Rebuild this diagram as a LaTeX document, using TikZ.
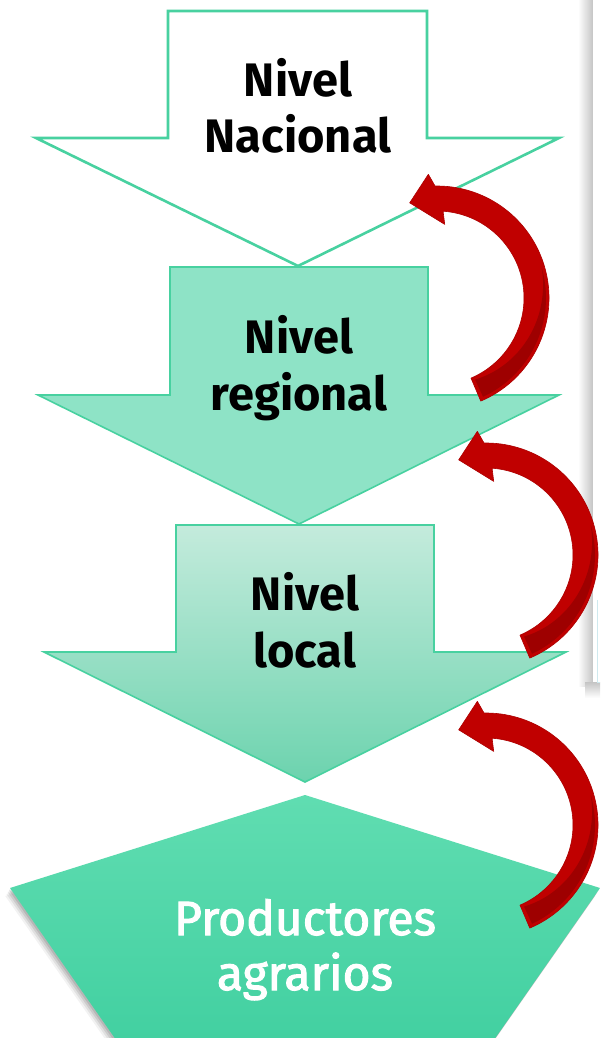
\documentclass[tikz,border=0pt]{standalone}
\usepackage{fontspec}
\setmainfont{Fira Sans}
\newfontfamily\prodfont[FakeBold=2.2]{Fira Sans}
\definecolor{edgegreen}{HTML}{48D1A0}
\definecolor{regfill}{HTML}{8EE3C6}
\definecolor{loctop}{HTML}{C4EBDC}
\definecolor{locbot}{HTML}{6CD3AE}
\definecolor{pentop}{HTML}{60DDB1}
\definecolor{penbot}{HTML}{3BCD9D}
\definecolor{redarr}{HTML}{C00000}
\definecolor{reddark}{HTML}{9E0000}
\definecolor{panelgray}{HTML}{C4C4C4}
\definecolor{panelline}{HTML}{CFE9EE}
\tikzset{
  lvltext/.style={font=\fontsize{47}{55}\selectfont\bfseries, text=black, inner sep=0pt, anchor=base},
  prodtext/.style={font=\prodfont\fontsize{48}{55}\selectfont, text=white, inner sep=0pt, anchor=base},
  redbody/.style={fill=redarr, draw=redarr!90!black, line width=0.6pt, line join=round},
  redshade/.style={fill=reddark},
}
\newcommand{\curvedarrow}{%
  \path[redbody] (-67:112) arc[start angle=-67, end angle=91, radius=112]
     -- (94:124) -- (106:99) -- (84:74) -- (86:87)
     arc[start angle=86, end angle=-67, radius=87] -- cycle;
  \fill[redshade] plot[domain=-65:16, samples=40] (\x:{109})
     -- plot[domain=16:-65, samples=40] (\x:{109-19*(16-\x)/81}) -- cycle;
}
\begin{document}
\begin{tikzpicture}[x=1pt,y=-1pt]
\useasboundingbox (0,0) rectangle (600,1038);
\clip (0,0) rectangle (600,1038);
\fill[white] (0,0) rectangle (600,1038);

% right panel with shadow
\shade[left color=white, right color=panelgray] (578,0) rectangle (593,686);
\shade[top color=panelgray, bottom color=white] (585,682) rectangle (600,698);
\fill[white] (593,0) rectangle (600,682);
\draw[panelline, line width=1pt] (597,600) -- (597,682) -- (600,682);

% Nivel Nacional arrow
\draw[edgegreen, line width=2.6pt, fill=white, line join=miter]
  (168,11) -- (427,11) -- (427,138) -- (559,138) -- (298,266) -- (36,138) -- (168,138) -- cycle;
\node[lvltext] (nac1) at (298,97) {Nivel};
\node[lvltext] (nac2) at (298,153) {Nacional};

% Nivel regional arrow
\draw[edgegreen, line width=1.6pt, fill=regfill]
  (170,267) -- (428,267) -- (428,395) -- (559,395) -- (299,524) -- (38,395) -- (170,395) -- cycle;
\node[lvltext] (reg1) at (299,353) {Nivel};
\node[lvltext] (reg2) at (299,410) {regional};

% Nivel local arrow
\path[top color=loctop, bottom color=locbot]
  (176,525) -- (434,525) -- (434,652) -- (566,652) -- (305,782) -- (44,652) -- (176,652) -- cycle;
\draw[edgegreen, line width=1.6pt]
  (176,525) -- (434,525) -- (434,652) -- (566,652) -- (305,782) -- (44,652) -- (176,652) -- cycle;
\node[lvltext] (loc1) at (305,610) {Nivel};
\node[lvltext] (loc2) at (305,667) {local};

% Productores pentagon with soft shadow
\foreach \o/\op in {8/0.05,6/0.07,4/0.09,2/0.1} {
  \fill[black, opacity=\op] (305-\o*0.6,795+\o) -- (600-\o*0.6,888+\o) -- (452-\o*0.6,1100+\o) -- (158-\o*0.6,1100+\o) -- (10-\o*0.6,888+\o) -- cycle;
}
\path[top color=pentop, bottom color=penbot]
  (305,795) -- (600,888) -- (452,1100) -- (158,1100) -- (10,888) -- cycle;
\node[prodtext] (prod1) at (305,935) {Productores};
\node[prodtext] (prod2) at (305,990) {agrarios};

% red curved arrows
\coordinate (ca) at (437,298);
\coordinate (cb) at (486,555);
\coordinate (cc) at (486,825);
\begin{scope}[shift={(ca)}, yscale=-1]\curvedarrow\end{scope}
\begin{scope}[shift={(cb)}, yscale=-1]\curvedarrow\end{scope}
\begin{scope}[shift={(cc)}, yscale=-1]\curvedarrow\end{scope}
\end{tikzpicture}
\end{document}
